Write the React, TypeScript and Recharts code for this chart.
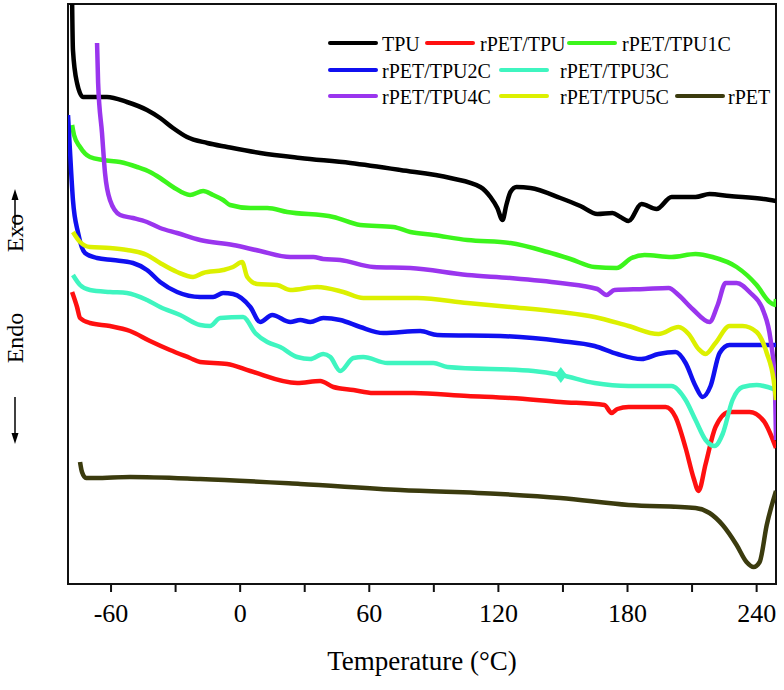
import { LineChart, Line, XAxis, YAxis, ReferenceArea, Legend } from 'recharts';

// DSC heating curves, heat flow in arbitrary units (curves are offset vertically)
const tpu = [
  { t: -78.1, v: 58.4 }, { t: -77.7, v: 53.4 }, { t: -75.8, v: 50.1 }, { t: -73.0, v: 48.7 },
  { t: -68.4, v: 48.7 }, { t: -61.9, v: 48.7 }, { t: -52.6, v: 48.2 }, { t: -43.3, v: 47.4 },
  { t: -37.2, v: 46.6 }, { t: -31.2, v: 45.6 }, { t: -24.7, v: 44.7 }, { t: -15.3, v: 44.1 },
  { t: -6.0, v: 43.7 }, { t: 9.3, v: 43.1 }, { t: 27.9, v: 42.6 }, { t: 51.2, v: 42.1 },
  { t: 74.4, v: 41.4 }, { t: 97.7, v: 40.6 }, { t: 111.6, v: 39.7 }, { t: 116.3, v: 38.7 },
  { t: 119.5, v: 37.6 }, { t: 121.9, v: 36.4 }, { t: 123.7, v: 37.9 }, { t: 125.6, v: 39.2 },
  { t: 128.4, v: 39.7 }, { t: 134.9, v: 39.6 }, { t: 148.8, v: 38.6 }, { t: 158.1, v: 37.8 },
  { t: 166.0, v: 37.0 }, { t: 173.0, v: 37.1 }, { t: 176.7, v: 36.7 }, { t: 180.5, v: 36.3 },
  { t: 186.5, v: 38.0 }, { t: 193.5, v: 37.5 }, { t: 200.5, v: 38.7 }, { t: 211.6, v: 38.7 },
  { t: 218.1, v: 39.0 }, { t: 227.4, v: 38.8 }, { t: 243.3, v: 38.5 }, { t: 249, v: 38.3 },
];

const rpetTpu = [
  { t: -78.1, v: 29.2 }, { t: -75.8, v: 27.7 }, { t: -74.4, v: 26.6 }, { t: -69.8, v: 26.1 },
  { t: -60.5, v: 25.8 }, { t: -51.2, v: 25.3 }, { t: -41.9, v: 24.3 }, { t: -32.6, v: 23.4 },
  { t: -23.3, v: 22.6 }, { t: -18.6, v: 22.2 }, { t: -6.0, v: 22.0 }, { t: 4.7, v: 21.3 },
  { t: 26.5, v: 20.1 }, { t: 37.2, v: 20.3 }, { t: 43.3, v: 19.7 }, { t: 52.6, v: 19.4 },
  { t: 61.9, v: 19.1 }, { t: 80.5, v: 19.1 }, { t: 105.6, v: 18.8 }, { t: 125.6, v: 18.6 },
  { t: 148.8, v: 18.2 }, { t: 169.3, v: 17.9 }, { t: 172.6, v: 17.1 }, { t: 175.3, v: 17.5 },
  { t: 180.5, v: 17.7 }, { t: 197.7, v: 17.7 }, { t: 202.3, v: 16.7 }, { t: 207.0, v: 13.6 },
  { t: 210.7, v: 10.6 }, { t: 213.0, v: 9.3 }, { t: 216.3, v: 12.0 }, { t: 220.9, v: 15.7 },
  { t: 227.4, v: 17.2 }, { t: 236.7, v: 17.2 }, { t: 243.3, v: 16.3 }, { t: 249, v: 13.6 },
];

const tpu1c = [
  { t: -78.1, v: 45.9 }, { t: -77.2, v: 44.9 }, { t: -74.4, v: 43.7 }, { t: -69.8, v: 42.7 },
  { t: -63.7, v: 42.4 }, { t: -55.8, v: 42.2 }, { t: -47.9, v: 41.7 }, { t: -41.9, v: 41.2 },
  { t: -37.2, v: 40.6 }, { t: -31.2, v: 39.7 }, { t: -23.3, v: 38.9 }, { t: -17.2, v: 39.3 },
  { t: -12.6, v: 38.9 }, { t: -7.9, v: 38.4 }, { t: -4.7, v: 37.9 }, { t: 4.7, v: 37.6 },
  { t: 12.6, v: 37.6 }, { t: 21.9, v: 37.2 }, { t: 43.3, v: 36.7 }, { t: 55.8, v: 35.9 },
  { t: 71.2, v: 35.7 }, { t: 79.1, v: 35.2 }, { t: 89.8, v: 34.9 }, { t: 105.6, v: 34.4 },
  { t: 125.6, v: 34.1 }, { t: 142.8, v: 33.2 }, { t: 153.5, v: 32.5 }, { t: 164.7, v: 31.7 },
  { t: 174.9, v: 31.6 }, { t: 181.9, v: 32.6 }, { t: 187.9, v: 32.9 }, { t: 200.5, v: 32.7 },
  { t: 211.6, v: 33.0 }, { t: 219.5, v: 32.7 }, { t: 230.7, v: 31.7 }, { t: 240.0, v: 29.9 },
  { t: 246.0, v: 28.2 }, { t: 248.4, v: 27.9 }, { t: 249, v: 28.5 },
];

const tpu2c = [
  { t: -80.0, v: 46.9 }, { t: -79.1, v: 43.4 }, { t: -77.7, v: 38.4 }, { t: -75.3, v: 35.1 },
  { t: -72.1, v: 33.1 }, { t: -66.5, v: 32.6 }, { t: -59.1, v: 32.4 }, { t: -49.8, v: 32.1 },
  { t: -43.3, v: 31.4 }, { t: -37.2, v: 30.2 }, { t: -29.3, v: 29.2 }, { t: -18.6, v: 28.7 },
  { t: -12.6, v: 28.7 }, { t: -7.9, v: 29.1 }, { t: -3.3, v: 29.0 }, { t: 4.7, v: 27.7 },
  { t: 9.3, v: 26.2 }, { t: 14.9, v: 26.9 }, { t: 23.3, v: 26.2 }, { t: 27.9, v: 26.4 },
  { t: 32.6, v: 26.2 }, { t: 38.6, v: 26.6 }, { t: 46.5, v: 26.4 }, { t: 55.8, v: 25.7 },
  { t: 66.5, v: 25.1 }, { t: 83.7, v: 25.3 }, { t: 91.6, v: 24.9 }, { t: 120.9, v: 24.8 },
  { t: 148.8, v: 24.3 }, { t: 164.7, v: 23.8 }, { t: 175.3, v: 23.0 }, { t: 186.5, v: 22.5 },
  { t: 194.4, v: 23.0 }, { t: 202.3, v: 23.2 }, { t: 207.0, v: 22.1 }, { t: 211.6, v: 19.8 },
  { t: 214.9, v: 18.7 }, { t: 218.6, v: 19.8 }, { t: 222.8, v: 23.1 }, { t: 227.4, v: 23.9 },
  { t: 236.7, v: 23.9 }, { t: 249, v: 23.9 },
];

const tpu3c = [
  { t: -77.7, v: 30.9 }, { t: -74.4, v: 29.9 }, { t: -69.8, v: 29.4 }, { t: -60.5, v: 29.2 },
  { t: -52.6, v: 29.1 }, { t: -43.3, v: 28.4 }, { t: -37.2, v: 27.7 }, { t: -27.9, v: 26.9 },
  { t: -18.6, v: 25.9 }, { t: -14.0, v: 25.8 }, { t: -9.3, v: 26.6 }, { t: 1.4, v: 26.7 },
  { t: 7.0, v: 25.1 }, { t: 12.6, v: 24.2 }, { t: 18.6, v: 23.7 }, { t: 26.5, v: 22.7 },
  { t: 32.6, v: 22.5 }, { t: 38.6, v: 23.0 }, { t: 41.9, v: 22.7 }, { t: 46.5, v: 21.3 },
  { t: 52.6, v: 22.6 }, { t: 57.2, v: 22.7 }, { t: 68.4, v: 22.1 }, { t: 89.8, v: 22.1 },
  { t: 96.3, v: 21.7 }, { t: 136.3, v: 21.3 }, { t: 149.0, v: 20.9 }, { t: 164.7, v: 20.1 },
  { t: 180.5, v: 19.8 }, { t: 200.5, v: 19.8 }, { t: 207.0, v: 18.4 }, { t: 211.6, v: 16.4 },
  { t: 216.3, v: 14.4 }, { t: 220.5, v: 13.8 }, { t: 224.2, v: 15.0 }, { t: 228.8, v: 18.4 },
  { t: 233.5, v: 19.7 }, { t: 240.0, v: 19.9 }, { t: 249, v: 19.4 },
];

const tpu4c = [
  { t: -66.5, v: 54.1 }, { t: -66.0, v: 50.1 }, { t: -64.2, v: 45.1 }, { t: -62.8, v: 41.1 },
  { t: -60.5, v: 38.4 }, { t: -55.8, v: 36.9 }, { t: -49.8, v: 36.6 }, { t: -43.3, v: 36.2 },
  { t: -37.2, v: 35.6 }, { t: -29.3, v: 35.1 }, { t: -18.6, v: 34.4 }, { t: -3.3, v: 33.9 },
  { t: 9.3, v: 33.3 }, { t: 23.3, v: 32.7 }, { t: 34.0, v: 32.7 }, { t: 38.6, v: 32.5 },
  { t: 46.5, v: 32.4 }, { t: 61.9, v: 31.7 }, { t: 79.1, v: 31.6 }, { t: 105.6, v: 30.9 },
  { t: 125.6, v: 30.6 }, { t: 148.8, v: 30.1 }, { t: 166.0, v: 29.5 }, { t: 170.2, v: 28.9 },
  { t: 174.0, v: 29.4 }, { t: 187.9, v: 29.5 }, { t: 199.1, v: 29.6 }, { t: 203.7, v: 28.9 },
  { t: 210.2, v: 27.5 }, { t: 218.1, v: 26.2 }, { t: 221.9, v: 27.9 }, { t: 225.6, v: 30.1 },
  { t: 230.7, v: 30.1 }, { t: 236.7, v: 29.2 }, { t: 243.3, v: 27.2 }, { t: 246.5, v: 24.4 },
  { t: 248.4, v: 20.4 }, { t: 249, v: 14.4 },
];

const tpu5c = [
  { t: -77.7, v: 35.2 }, { t: -74.4, v: 34.2 }, { t: -69.8, v: 33.7 }, { t: -60.5, v: 33.6 },
  { t: -52.6, v: 33.4 }, { t: -43.3, v: 32.9 }, { t: -37.2, v: 32.1 }, { t: -29.3, v: 31.2 },
  { t: -21.9, v: 30.7 }, { t: -17.2, v: 31.1 }, { t: -7.9, v: 31.4 }, { t: -3.3, v: 31.7 },
  { t: 0.9, v: 32.2 }, { t: 3.3, v: 30.7 }, { t: 7.9, v: 30.0 }, { t: 17.2, v: 29.9 },
  { t: 23.3, v: 29.4 }, { t: 35.8, v: 29.7 }, { t: 47.9, v: 29.2 }, { t: 57.2, v: 28.6 },
  { t: 82.3, v: 28.6 }, { t: 105.6, v: 28.1 }, { t: 125.6, v: 27.7 }, { t: 148.8, v: 27.2 },
  { t: 164.7, v: 26.7 }, { t: 180.5, v: 25.8 }, { t: 194.4, v: 25.0 }, { t: 203.7, v: 25.7 },
  { t: 208.4, v: 25.0 }, { t: 213.0, v: 23.5 }, { t: 216.3, v: 23.0 }, { t: 220.9, v: 24.1 },
  { t: 227.4, v: 25.8 }, { t: 233.5, v: 25.8 }, { t: 240.0, v: 25.2 }, { t: 244.7, v: 23.1 },
  { t: 247.9, v: 20.4 }, { t: 249, v: 18.4 },
];

const rpet = [
  { t: -74.4, v: 12.2 }, { t: -73.5, v: 11.2 }, { t: -71.6, v: 10.6 }, { t: -67.4, v: 10.6 },
  { t: -51.2, v: 10.7 }, { t: -18.6, v: 10.5 }, { t: 27.9, v: 10.0 }, { t: 74.4, v: 9.4 },
  { t: 120.9, v: 9.0 }, { t: 148.8, v: 8.6 }, { t: 180.5, v: 7.9 }, { t: 211.6, v: 7.6 },
  { t: 218.1, v: 7.1 }, { t: 224.2, v: 5.9 }, { t: 230.7, v: 3.9 }, { t: 235.3, v: 2.2 },
  { t: 238.6, v: 1.7 }, { t: 241.4, v: 2.2 }, { t: 244.7, v: 5.9 }, { t: 249, v: 9.3 },
];

const xTicks = [-60, -30, 0, 30, 60, 90, 120, 150, 180, 210, 240];
const MARKER_T = 149.0; // point on rPET/TPU3C drawn as a diamond

const series = [
  { name: 'TPU', color: '#000000', data: tpu },
  { name: 'rPET/TPU', color: '#ff1010', data: rpetTpu },
  { name: 'rPET/TPU1C', color: '#3cf51c', data: tpu1c },
  { name: 'rPET/TPU2C', color: '#1010f0', data: tpu2c },
  { name: 'rPET/TPU3C', color: '#3ff5c0', data: tpu3c },
  { name: 'rPET/TPU4C', color: '#9a35ee', data: tpu4c },
  { name: 'rPET/TPU5C', color: '#dcf000', data: tpu5c },
  { name: 'rPET', color: '#3b3b0e', data: rpet },
];

const FONT = '"Liberation Serif", "Times New Roman", serif';

// legend grid: [series index, line start x, text x]
const legendRows = [
  { y: 43, items: [[0, 328, 382], [1, 425, 480], [2, 567, 622]] },
  { y: 70, items: [[3, 328, 382], [4, 499, 560]] },
  { y: 96, items: [[5, 328, 382], [6, 499, 560], [7, 675, 728]] },
];

function LegendGrid() {
  return (
    <svg width={784} height={120} style={{ display: 'block' }}>
      {legendRows.map((row, r) =>
        row.items.map(([i, lx, tx]) => (
          <g key={`${r}-${i}`}>
            <line
              x1={lx + 2}
              x2={lx + 48}
              y1={row.y}
              y2={row.y}
              stroke={series[i].color}
              strokeWidth={4}
              strokeLinecap="round"
            />
            <text x={tx} y={row.y + 8} fontSize={20} fontFamily={FONT} fill="#000">
              {series[i].name}
            </text>
          </g>
        )),
      )}
    </svg>
  );
}

function diamondDot(props: any) {
  const { cx, cy, payload, index } = props;
  if (payload && payload.t === MARKER_T) {
    return (
      <polygon
        key={`dm-${index}`}
        points={`${cx},${cy - 8} ${cx + 6},${cy} ${cx},${cy + 8} ${cx - 6},${cy}`}
        fill="#3ff5c0"
      />
    );
  }
  return <g key={`dm-${index}`} />;
}

export default function App() {
  return (
    <div style={{ position: 'absolute', left: 0, top: 0, width: 784, height: 690, background: '#fff' }}>
      <LineChart width={784} height={690} margin={{ top: 4, right: 8, bottom: 6, left: 68 }}>
        <XAxis
          dataKey="t"
          type="number"
          domain={[-80, 249]}
          allowDataOverflow
          ticks={xTicks}
          tickFormatter={(v: number) => (v % 60 === 0 ? String(v) : '')}
          tickSize={8}
          tickMargin={12}
          height={100}
          axisLine={{ stroke: '#111', strokeWidth: 2 }}
          tickLine={{ stroke: '#111', strokeWidth: 2 }}
          tick={{ fontSize: 26, fill: '#000', fontFamily: FONT }}
          label={{
            value: 'Temperature (°C)',
            position: 'insideBottom',
            offset: 14,
            fontSize: 27,
            fill: '#000',
            fontFamily: FONT,
          }}
        />
        <YAxis hide type="number" domain={[0, 58]} allowDataOverflow />
        <ReferenceArea x1={-80} x2={249} y1={0} y2={58} fill="none" stroke="#111" strokeWidth={2} />
        <Legend
          layout="horizontal"
          align="center"
          verticalAlign="middle"
          wrapperStyle={{ left: 0, top: 0, width: 784, height: 120 }}
          content={() => <LegendGrid />}
        />
        {series.map((s) => (
          <Line
            key={s.name}
            name={s.name}
            data={s.data}
            dataKey="v"
            type="monotone"
            stroke={s.color}
            strokeWidth={4.5}
            strokeLinejoin="round"
            dot={s.name === 'rPET/TPU3C' ? diamondDot : false}
            activeDot={false}
            isAnimationActive={false}
          />
        ))}
      </LineChart>
      <svg width={60} height={690} style={{ position: 'absolute', left: 0, top: 0 }}>
        <line x1={15} y1={228} x2={15} y2={198} stroke="#000" strokeWidth={1.5} />
        <polygon points="15,189 11.5,200 18.5,200" fill="#000" />
        <text transform="translate(23,233) rotate(-90)" textAnchor="middle" fontSize={24} fontFamily={FONT}>
          Exo
        </text>
        <text transform="translate(23,338) rotate(-90)" textAnchor="middle" fontSize={24} fontFamily={FONT}>
          Endo
        </text>
        <line x1={15} y1={397} x2={15} y2={434} stroke="#000" strokeWidth={1.5} />
        <polygon points="15,444 11.5,433 18.5,433" fill="#000" />
      </svg>
    </div>
  );
}
